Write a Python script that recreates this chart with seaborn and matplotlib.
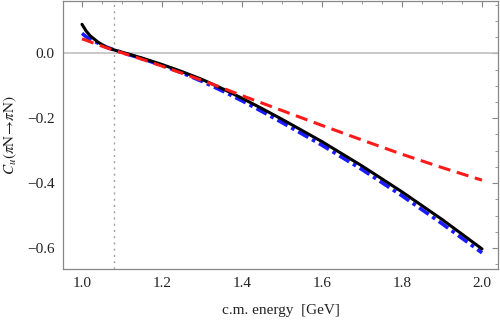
import numpy as np
import pandas as pd
import matplotlib
matplotlib.use("Agg")
import matplotlib.pyplot as plt
from matplotlib.ticker import MultipleLocator
import seaborn as sns

energy = [1.0, 1.01, 1.02, 1.04, 1.06, 1.08, 1.1, 1.15, 1.2, 1.25, 1.3, 1.35,
          1.4, 1.45, 1.5, 1.6, 1.7, 1.8, 1.9, 2.0]
black_vals = [0.090, 0.070, 0.055, 0.035, 0.020, 0.011, 0.004, -0.014, -0.034,
              -0.056, -0.080, -0.108, -0.138, -0.170, -0.203, -0.272, -0.347,
              -0.427, -0.512, -0.603]
blue_vals = [0.062, 0.052, 0.044, 0.032, 0.020, 0.011, 0.003, -0.016, -0.037,
             -0.060, -0.086, -0.115, -0.146, -0.179, -0.213, -0.283, -0.358,
             -0.439, -0.525, -0.615]
red_vals = [0.045, 0.041, 0.036, 0.027, 0.018, 0.010, 0.002, -0.018, -0.039,
            -0.061, -0.083, -0.106, -0.130, -0.153, -0.176, -0.222, -0.267,
            -0.311, -0.352, -0.391]
threshold = 1.08

sns.set_theme(style="white")
plt.rcParams["font.family"] = ["Liberation Serif", "DejaVu Serif"]
plt.rcParams["mathtext.fontset"] = "stix"

fig = plt.figure(figsize=(5.0, 3.21), dpi=100)
ax = fig.add_axes([0.126, 0.162, 0.870, 0.836])

ax.axhline(0, color="#c0c0c0", lw=1.2, zorder=1)
ax.axvline(threshold, color="#a0a0a0", lw=1.0, ls=(0, (1.5, 3)), zorder=1)

sns.lineplot(x=energy, y=blue_vals, ax=ax, color="#1a1aff", lw=2.6,
             linestyle=(0, (3.2, 1.2, 1.0, 1.2)), zorder=3)
sns.lineplot(x=energy, y=black_vals, ax=ax, color="black", lw=2.2, zorder=4)
sns.lineplot(x=energy, y=red_vals, ax=ax, color="#ff1a1a", lw=2.2,
             linestyle=(0, (4.0, 2.2)), zorder=5)

ax.set_xlim(0.9525, 2.04)
ax.set_ylim(-0.665, 0.163)
ax.xaxis.set_major_locator(MultipleLocator(0.2))
ax.xaxis.set_minor_locator(MultipleLocator(0.05))
ax.yaxis.set_major_locator(MultipleLocator(0.2))
ax.yaxis.set_minor_locator(MultipleLocator(0.05))
ax.xaxis.set_major_formatter(matplotlib.ticker.FuncFormatter(lambda v, p: f"{v:.1f}"))
ax.yaxis.set_major_formatter(matplotlib.ticker.FuncFormatter(
    lambda v, p: (f"{v:.1f}".replace("-", "\u2212")) if abs(v) > 1e-9 else "0.0"))

for s in ax.spines.values():
    s.set_color("#888888")
    s.set_linewidth(0.9)
ax.tick_params(which="both", direction="in", top=True, right=True,
               color="#888888", labelsize=11, labelcolor="#222222")
ax.tick_params(which="major", length=4.5, width=0.8, pad=6)
ax.tick_params(which="minor", length=2.5, width=0.6)

ax.set_xlabel("c.m. energy  [GeV]", fontsize=11, color="#222222", labelpad=10)
ax.set_ylabel(r"$C_u(\pi\mathrm{N}\!\rightarrow\!\pi\mathrm{N})$", fontsize=11,
              color="#222222", labelpad=6)

fig.savefig("out.png", dpi=100)
